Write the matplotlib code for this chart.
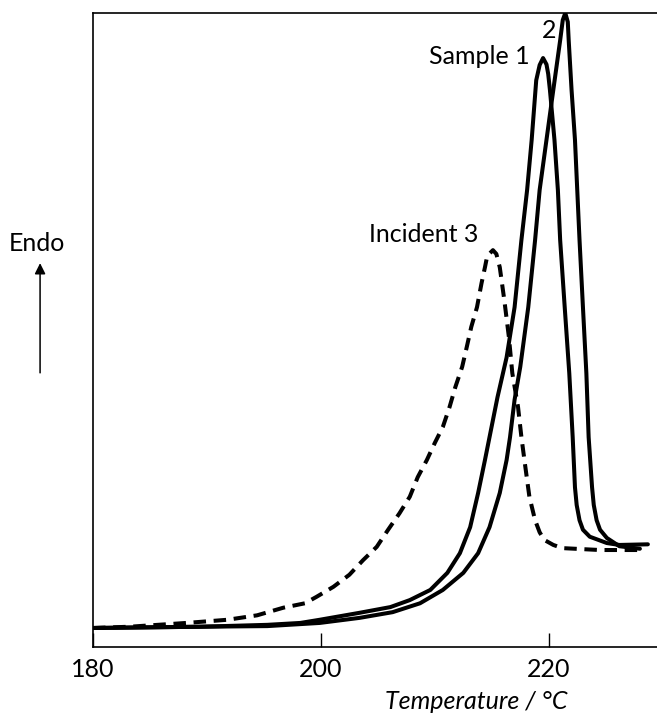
import matplotlib
matplotlib.use("Agg")
import matplotlib.pyplot as plt

plt.rcParams['font.family'] = ['Lato', 'DejaVu Sans']

# DSC traces: temperature (°C) vs. endothermic heat flow (arbitrary units)
t_sample1 = [180.0, 189.4, 195.3, 198.2, 199.9, 203.4, 206.1, 207.8, 209.6, 211.1,
             212.2, 213.1, 213.8, 214.4, 214.8, 215.5, 216.3, 217.0, 217.6, 218.1,
             218.5, 218.9, 219.2, 219.5, 219.8, 219.95, 220.1, 220.5, 220.8, 221.0,
             221.4, 221.8, 222.1, 222.3, 222.45, 222.7, 223.0, 223.6, 225.1, 226.2,
             228.7]
q_sample1 = [3.0, 3.2, 3.5, 3.8, 4.3, 5.4, 6.3, 7.4, 9.0, 11.7,
             14.8, 18.9, 24.3, 29.5, 33.1, 39.4, 45.7, 53.6, 64.2, 72.1,
             80.0, 89.4, 91.8, 92.9, 91.9, 90.4, 87.9, 80.0, 72.1, 64.2,
             53.6, 43.2, 33.1, 25.2, 22.4, 20.0, 18.5, 17.4, 16.4, 16.1,
             16.2]

t_sample2 = [180.0, 189.4, 195.3, 199.9, 203.4, 206.3, 208.7, 210.7, 212.5, 213.8,
             214.8, 215.7, 216.3, 216.6, 217.0, 217.5, 218.2, 218.8, 219.2, 219.8,
             220.4, 221.0, 221.23, 221.45, 221.67, 221.75, 222.0, 222.3, 222.5, 222.7,
             223.0, 223.3, 223.5, 223.8, 223.95, 224.2, 224.5, 225.1, 226.2, 228.0]
q_sample2 = [3.0, 3.2, 3.3, 3.8, 4.6, 5.5, 6.9, 9.0, 11.7, 14.8,
             18.9, 24.3, 29.5, 33.1, 39.0, 44.2, 53.6, 64.2, 72.1, 80.0,
             87.9, 95.7, 98.9, 100.0, 98.6, 95.7, 87.9, 80.0, 72.1, 64.2,
             53.6, 43.2, 33.1, 25.2, 22.4, 20.0, 18.5, 17.2, 15.9, 15.5]

t_incident3 = [180.0, 183.2, 188.2, 191.8, 194.4, 196.7, 198.6, 199.6, 201.1, 202.5,
               203.7, 204.9, 205.9, 206.9, 207.8, 208.5, 209.3, 210.0, 210.7, 211.3,
               211.8, 212.4, 212.8, 213.2, 213.7, 214.1, 214.4, 214.6, 215.1, 215.4,
               215.7, 216.1, 216.5, 216.8, 217.3, 217.6, 217.9, 218.3, 218.8, 219.2,
               219.6, 220.4, 221.2, 224.5, 227.8]
q_incident3 = [3.0, 3.2, 3.8, 4.3, 5.0, 6.2, 6.9, 7.9, 9.5, 11.4,
               13.7, 15.8, 18.5, 21.1, 23.7, 26.8, 29.5, 32.2, 34.7, 37.9,
               41.0, 44.2, 47.3, 50.5, 53.6, 57.4, 59.9, 61.7, 62.6, 62.0,
               59.9, 54.7, 48.9, 43.2, 37.9, 33.1, 29.0, 23.7, 20.0, 18.1,
               16.9, 16.1, 15.6, 15.3, 15.3]

x_ticks = [180, 200, 220]
x_tick_labels = ['180', '200', '220']

fig = plt.figure(figsize=(6.57, 7.17), dpi=100)
ax = fig.add_axes([0.1416, 0.0976, 0.8584, 0.8842])

lw = 2.9
ax.plot(t_sample1, q_sample1, color='black', lw=lw, solid_capstyle='round',
        solid_joinstyle='round')
ax.plot(t_sample2, q_sample2, color='black', lw=lw, solid_capstyle='round',
        solid_joinstyle='round')
ax.plot(t_incident3, q_incident3, color='black', lw=lw, linestyle=(0, (3.1, 1.9)),
        dash_capstyle='butt', dash_joinstyle='round')

ax.set_xlim(180, 229.5)
ax.set_ylim(0, 100)

for side in ('left', 'top', 'bottom'):
    ax.spines[side].set_linewidth(1.2)
ax.spines['right'].set_visible(False)

ax.set_xticks(x_ticks)
ax.set_xticklabels(x_tick_labels, fontsize=18)
ax.tick_params(axis='x', direction='in', length=10, width=1.0, pad=8)
ax.set_yticks([])

ax.set_xlabel('Temperature / °C', fontsize=18, style='italic')
ax.xaxis.set_label_coords(0.679, -0.068)

# Curve labels
ax.text(218.3, 93.2, 'Sample 1', fontsize=18, ha='right', va='center')
ax.text(220.0, 97.3, '2', fontsize=18, ha='center', va='center')
ax.text(213.8, 65.0, 'Incident 3', fontsize=18, ha='right', va='center')

# Endothermic direction indicator
fig.text(0.056, 0.661, 'Endo', fontsize=18, ha='center', va='center')
ax.annotate('', xy=(0.061, 0.633), xytext=(0.061, 0.480),
            xycoords='figure fraction', textcoords='figure fraction',
            arrowprops=dict(arrowstyle='-|>', lw=1.1, color='black',
                            mutation_scale=16, shrinkA=0, shrinkB=0))

fig.savefig('out.png', dpi=100)
